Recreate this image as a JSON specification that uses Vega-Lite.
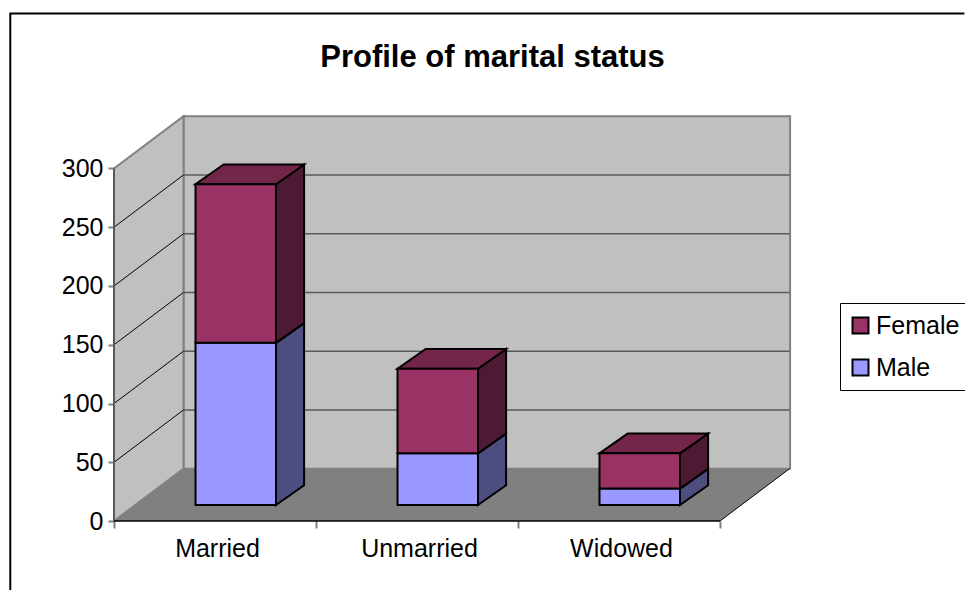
{
"$schema":"https://vega.github.io/schema/vega-lite/v6.json",
"width":965,"height":590,"padding":0,"autosize":{"type":"none"},
"background":"white",
"config":{"view":{"stroke":null},"font":"Liberation Sans","axis":{"grid":false,"domain":false,"title":null}},
"title":{"text":"Profile of marital status","font":"Liberation Sans","fontSize":31,"fontWeight":"bold","color":"black","anchor":"middle","frame":"group","dx":10,"offset":-74},
"datasets":{
"bars":[
{"category":"Married","series":"Male","value":138},
{"category":"Married","series":"Female","value":135},
{"category":"Unmarried","series":"Male","value":44},
{"category":"Unmarried","series":"Female","value":72},
{"category":"Widowed","series":"Male","value":14},
{"category":"Widowed","series":"Female","value":30}],
"levels":[{"level":50},{"level":100},{"level":150},{"level":200},{"level":250}]
},
"data":{"name":"bars"},
"layer":[
{"data":{"values":[{"plane":"back wall"}]},
 "mark":{"type":"rect","fill":"#C0C0C0","stroke":"#808080","strokeWidth":2},
 "encoding":{
  "x":{"datum":0.344,"type":"quantitative","scale":{"domain":[-0.5644,4.2129],"nice":false,"zero":false},
   "axis":{"values":[0,1,2,3],"title":null,"grid":false,"domain":false,"offset":-69,"tickColor":"#808080","tickSize":7,"tickWidth":2,"labelExpr":"datum.value==0?'Married':datum.value==1?'Unmarried':datum.value==2?'Widowed':''","labelOffset":103,"labelPadding":8,"labelFont":"Liberation Sans","labelFontSize":25,"labelColor":"black","labelOverlap":false,"labelFlush":false,"labelBound":false}},
  "x2":{"datum":3.347},
  "y":{"datum":44.5,"type":"quantitative","scale":{"domain":[-58.72,443.4],"nice":false,"zero":false},
   "axis":{"values":[0,50,100,150,200,250,300],"title":null,"grid":false,"domain":false,"offset":-114,"tickColor":"#808080","tickSize":6,"tickWidth":2,"labelPadding":5,"labelFont":"Liberation Sans","labelFontSize":25,"labelColor":"black","labelOverlap":false,"labelBound":false,"labelFlush":false}},
  "y2":{"datum":344.5}
 }},
{"data":{"values":[{"plane":"side wall"}]},
 "transform":[{"calculate":"[0,0.344]","as":"xs"},{"calculate":"[0,44.5]","as":"low"},{"calculate":"[300,344.5]","as":"high"},{"flatten":["xs","low","high"]}],
 "mark":{"type":"area","fill":"#C0C0C0","stroke":"#808080","strokeWidth":2,"opacity":1},
 "encoding":{"x":{"field":"xs","type":"quantitative"},"y":{"field":"low","type":"quantitative"},"y2":{"field":"high"}}},
{"data":{"values":[{"plane":"floor"}]},
 "transform":[{"calculate":"[0,0.344]","as":"xa"},{"calculate":"[3,3.344]","as":"xb"},{"calculate":"[0,44.5]","as":"yy"},{"flatten":["xa","xb","yy"]}],
 "mark":{"type":"area","orient":"horizontal","fill":"#808080","opacity":1},
 "encoding":{"y":{"field":"yy","type":"quantitative"},"x":{"field":"xa","type":"quantitative"},"x2":{"field":"xb"}}},
{"data":{"name":"levels"},
 "transform":[{"calculate":"datum.level+44.5","as":"back"}],
 "mark":{"type":"rule","color":"#5A5A5A","strokeWidth":1.5},
 "encoding":{"x":{"datum":0.344,"type":"quantitative"},"x2":{"datum":3.344},"y":{"field":"back","type":"quantitative"}}},
{"data":{"name":"levels"},
 "transform":[{"calculate":"datum.level+44.5","as":"back"}],
 "mark":{"type":"rule","color":"black","strokeWidth":1},
 "encoding":{"x":{"datum":0,"type":"quantitative"},"x2":{"datum":0.344},"y":{"field":"level","type":"quantitative"},"y2":{"field":"back"}}},
{"data":{"values":[{"edge":"left"}]},
 "mark":{"type":"rule","color":"#5A5A5A","strokeWidth":2},
 "encoding":{"x":{"datum":0,"type":"quantitative"},"y":{"datum":0,"type":"quantitative"},"y2":{"datum":300}}},
{"data":{"values":[{"edge":"front"}]},
 "mark":{"type":"rule","color":"black","strokeWidth":1.5},
 "encoding":{"x":{"datum":0,"type":"quantitative"},"x2":{"datum":3},"y":{"datum":0,"type":"quantitative"}}},
{"data":{"values":[{"edge":"right"}]},
 "mark":{"type":"rule","color":"black","strokeWidth":1},
 "encoding":{"x":{"datum":3,"type":"quantitative"},"x2":{"datum":3.344},"y":{"datum":0,"type":"quantitative"},"y2":{"datum":44.5}}},
{"data":{"values":[{"edge":"frame left"}]},
 "mark":{"type":"rule","color":"black","strokeWidth":2},
 "encoding":{"x":{"datum":-0.5135,"type":"quantitative"},"y":{"datum":-58.7,"type":"quantitative"},"y2":{"datum":432.6}}},
{"data":{"values":[{"edge":"frame top"}]},
 "mark":{"type":"rule","color":"black","strokeWidth":2},
 "encoding":{"x":{"datum":-0.5135,"type":"quantitative"},"x2":{"datum":4.21},"y":{"datum":432,"type":"quantitative"}}},
{"transform":[
  {"stack":"value","groupby":["category"],"sort":[{"field":"series","order":"descending"}],"as":["v0","v1"]},
  {"calculate":"indexof(['Married','Unmarried','Widowed'],datum.category)+0.802","as":"right"},
  {"calculate":"[datum.right,datum.right+0.139]","as":"xs"},
  {"calculate":"[datum.v0+13.6,datum.v0+30.4]","as":"low"},
  {"calculate":"[datum.v1+13.6,datum.v1+30.4]","as":"high"},
  {"flatten":["xs","low","high"]}],
 "mark":{"type":"area","stroke":"black","strokeWidth":2,"opacity":1},
 "encoding":{"x":{"field":"xs","type":"quantitative"},"y":{"field":"low","type":"quantitative"},"y2":{"field":"high"},
  "detail":{"field":"category"},
  "color":{"field":"series","type":"nominal","legend":null,"scale":{"domain":["Female","Male"],"range":["#4D1A33","#4D4D80"]}}}},
{"transform":[
  {"stack":"value","groupby":["category"],"sort":[{"field":"series","order":"descending"}],"as":["v0","v1"]},
  {"filter":"datum.series==='Female'"},
  {"calculate":"indexof(['Married','Unmarried','Widowed'],datum.category)+0.4035","as":"left"},
  {"calculate":"[datum.left,datum.left+0.139]","as":"xa"},
  {"calculate":"[datum.left+0.3985,datum.left+0.5375]","as":"xb"},
  {"calculate":"[datum.v1+13.6,datum.v1+30.4]","as":"yy"},
  {"flatten":["xa","xb","yy"]}],
 "mark":{"type":"area","orient":"horizontal","fill":"#732649","stroke":"black","strokeWidth":2,"opacity":1},
 "encoding":{"y":{"field":"yy","type":"quantitative"},"x":{"field":"xa","type":"quantitative"},"x2":{"field":"xb"},"detail":{"field":"category"}}},
{"transform":[
  {"stack":"value","groupby":["category"],"sort":[{"field":"series","order":"descending"}],"as":["v0","v1"]},
  {"calculate":"indexof(['Married','Unmarried','Widowed'],datum.category)+0.4035","as":"left"},
  {"calculate":"datum.left+0.3985","as":"right"},
  {"calculate":"datum.v0+13.6","as":"low"},
  {"calculate":"datum.v1+13.6","as":"high"}],
 "mark":{"type":"rect","stroke":"black","strokeWidth":2,"opacity":1},
 "encoding":{"x":{"field":"left","type":"quantitative"},"x2":{"field":"right"},"y":{"field":"low","type":"quantitative"},"y2":{"field":"high"},
  "color":{"field":"series","type":"nominal","scale":{"domain":["Female","Male"],"range":["#993366","#9999FF"]},
   "legend":{"title":null,"orient":"none","legendX":840,"legendY":303,"fillColor":"white","strokeColor":"black","padding":8,"symbolType":"square","symbolSize":256,"symbolStrokeColor":"black","symbolStrokeWidth":2,"symbolOpacity":1,"labelFont":"Liberation Sans","labelFontSize":25,"labelColor":"black","labelOffset":3,"rowPadding":13,"clipHeight":29,"labelLimit":200}}}}
],
"resolve":{"scale":{"color":"independent"}}
}
